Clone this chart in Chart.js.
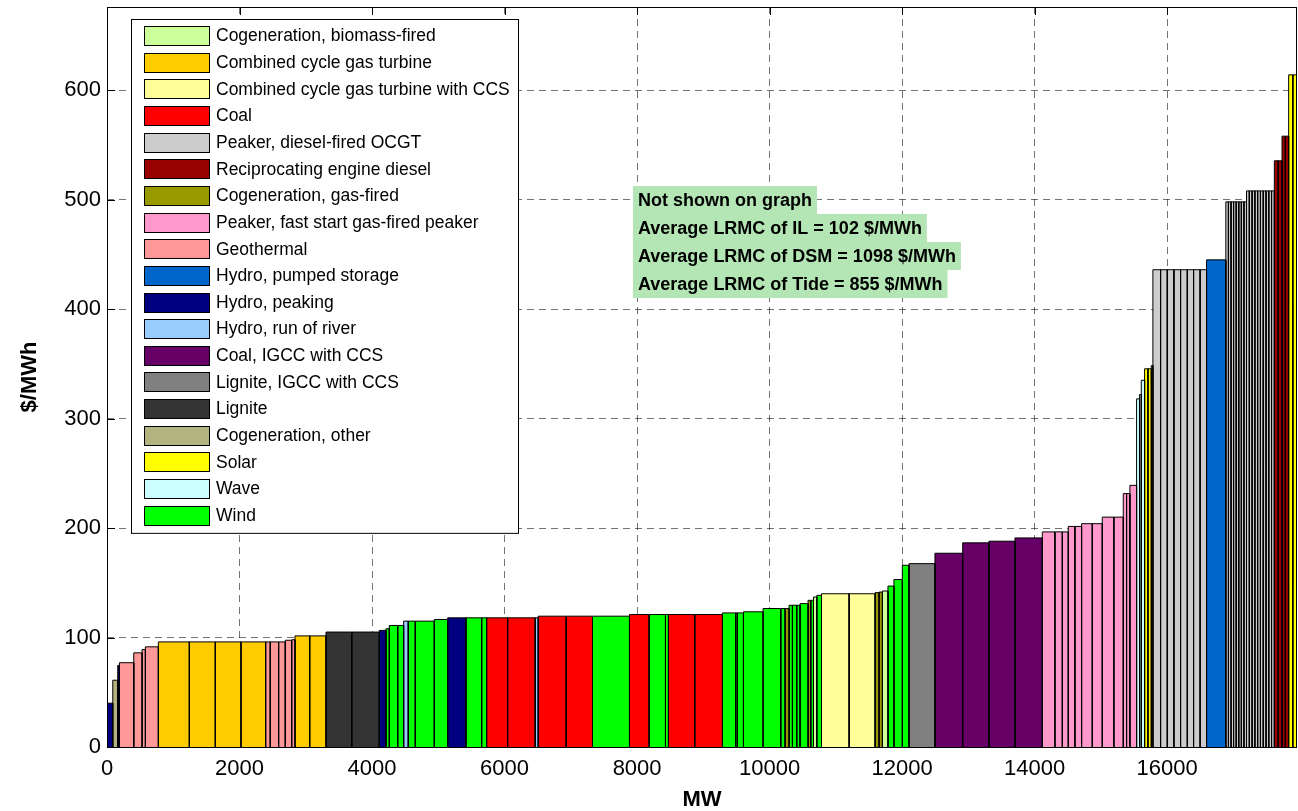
<!DOCTYPE html>
<html>
<head>
<meta charset="utf-8">
<title>LRMC supply curve</title>
<script src="https://cdn.jsdelivr.net/npm/chart.js@4.4.1/dist/chart.umd.min.js"></script>
<style>
  html, body { margin: 0; padding: 0; background: #fff; }
  #wrap { width: 1298px; height: 811px; }
</style>
</head>
<body>
<div id="wrap"><canvas id="supply-chart"></canvas></div>
<script>
// Technologies, in legend order
const techKeys = ['bio', 'ccgt', 'ccgtccs', 'coal', 'ocgt', 'recip', 'cogas', 'peaker', 'geo',
  'pumped', 'hpeak', 'ror', 'igcc', 'ligccs', 'lignite', 'coother', 'solar', 'wave', 'wind'];
const techNames = [
  'Cogeneration, biomass-fired',
  'Combined cycle gas turbine',
  'Combined cycle gas turbine with CCS',
  'Coal',
  'Peaker, diesel-fired OCGT',
  'Reciprocating engine diesel',
  'Cogeneration, gas-fired',
  'Peaker, fast start gas-fired peaker',
  'Geothermal',
  'Hydro, pumped storage',
  'Hydro, peaking',
  'Hydro, run of river',
  'Coal, IGCC with CCS',
  'Lignite, IGCC with CCS',
  'Lignite',
  'Cogeneration, other',
  'Solar',
  'Wave',
  'Wind'
];
const techColors = ['#ccff99', '#ffcc00', '#ffff99', '#ff0000', '#cccccc', '#990000', '#999900',
  '#ff99cc', '#ff9999', '#0066cc', '#000080', '#99ccff', '#660066', '#808080', '#333333',
  '#b3b380', '#ffff00', '#ccffff', '#00ff00'];

// Plant blocks in merit order: technology, capacity (MW), LRMC ($/MWh)
const blockTech = [
  'hpeak', 'coother', 'hpeak', 'geo', 'geo', 'geo', 'geo',
  'ccgt', 'ccgt', 'ccgt', 'ccgt',
  'geo', 'geo', 'geo', 'geo', 'geo',
  'ccgt', 'ccgt', 'lignite', 'lignite',
  'hpeak', 'wind', 'wind', 'wind', 'ror', 'wind', 'wind', 'wind',
  'hpeak', 'wind', 'wind', 'coal', 'coal', 'ror', 'coal', 'coal', 'wind',
  'coal', 'wind', 'wind', 'coal', 'coal',
  'wind', 'wind', 'wind', 'wind', 'wind', 'wind', 'cogas',
  'wind', 'wind', 'wind', 'wind', 'cogas', 'wind', 'bio', 'wind',
  'ccgtccs', 'ccgtccs', 'cogas', 'cogas', 'bio', 'wind', 'wind', 'wind',
  'ligccs', 'igcc', 'igcc', 'igcc', 'igcc',
  'peaker', 'peaker', 'peaker', 'peaker', 'peaker', 'peaker', 'peaker', 'peaker', 'peaker',
  'peaker', 'peaker', 'peaker',
  'wave', 'wave', 'wave', 'solar', 'solar',
  'ocgt', 'ocgt', 'ocgt', 'ocgt', 'ocgt', 'ocgt', 'ocgt', 'ocgt', 'ocgt',
  'pumped',
  'ocgt', 'ocgt', 'ocgt', 'ocgt', 'ocgt', 'ocgt', 'ocgt', 'ocgt',
  'ocgt', 'ocgt', 'ocgt', 'ocgt', 'ocgt', 'ocgt', 'ocgt', 'ocgt', 'ocgt', 'ocgt',
  'recip', 'recip', 'recip', 'recip', 'solar', 'solar'
];
const blockMW = [
  87, 75, 25, 217, 125, 50, 196,
  467, 392, 388, 372,
  69, 127, 100, 97, 50,
  222, 246, 388, 416,
  101, 50, 127, 90, 69, 106, 287, 202,
  276, 237, 75, 317, 416, 45, 422, 398, 558,
  296, 247, 45, 397, 418,
  201, 26, 90, 296, 267, 65, 60,
  51, 65, 50, 121, 41, 41, 50, 71,
  416, 392, 60, 51, 84, 90, 127, 100,
  392, 418, 397, 392, 413,
  190, 112, 90, 100, 101, 161, 151, 175, 142,
  50, 50, 101,
  45, 26, 50, 50, 51,
  24, 116, 101, 100, 101, 101, 95, 98, 98,
  291,
  39, 39, 39, 39, 39, 39, 39, 39,
  42, 42, 42, 42, 42, 42, 42, 42, 42, 42,
  58, 58, 50, 50, 63, 63
];
const blockCost = [
  40, 61, 74.5, 77, 86, 89, 91.5,
  96, 96, 96, 96,
  96, 96, 96, 97.5, 98,
  101.5, 101.5, 105, 105,
  106.5, 108, 111, 111, 115, 115, 115, 116.5,
  118, 118, 118, 118, 118, 118, 119.5, 119.5, 119.5,
  121, 121, 121, 121, 121,
  122.5, 122.5, 122.5, 123.5, 126.5, 126.5, 126.5,
  129.5, 129.5, 129.5, 131, 134, 134, 137, 138.5,
  140, 140, 141, 141.5, 142.5, 147, 153, 166,
  167.5, 177, 186.5, 188, 191,
  196.5, 196.5, 196.5, 201.5, 201.5, 204, 204, 210, 210,
  231.5, 231.5, 239,
  318, 322, 335, 345.5, 345.5,
  348.5, 436, 436, 436, 436, 436, 436, 436, 436,
  445,
  498, 498, 498, 498, 498, 498, 498, 498,
  508, 508, 508, 508, 508, 508, 508, 508, 508, 508,
  535.5, 535.5, 558, 558, 614, 614
];

const xTickValues = [0, 2000, 4000, 6000, 8000, 10000, 12000, 14000, 16000];
const yTickValues = [0, 100, 200, 300, 400, 500, 600];
const yMax = 676;

const noteLines = [
  'Not shown on graph',
  'Average LRMC of IL = 102 $/MWh',
  'Average LRMC of DSM = 1098 $/MWh',
  'Average LRMC of Tide = 855 $/MWh'
];

const FONT = '"Liberation Sans", Arial, Helvetica, sans-serif';

// Each block becomes a filled outline from (start,0) up, across and back down
let runningMW = 0;
const blockDatasets = blockMW.map((mw, i) => {
  const x0 = runningMW;
  const x1 = runningMW + mw;
  runningMW = x1;
  const h = blockCost[i];
  return {
    type: 'line',
    data: [{ x: x0, y: 0 }, { x: x0, y: h }, { x: x1, y: h }, { x: x1, y: 0 }],
    backgroundColor: techColors[techKeys.indexOf(blockTech[i])],
    borderColor: '#000',
    borderWidth: 1,
    fill: 'origin',
    pointRadius: 0,
    tension: 0
  };
});
const totalMW = runningMW;

// Inward tick marks (behind the blocks) and the closed axes box (on top)
const axesFrame = {
  id: 'axesFrame',
  beforeDatasetsDraw(chart) {
    const { ctx, chartArea: a, scales: { x, y } } = chart;
    ctx.save();
    ctx.strokeStyle = '#000';
    ctx.lineWidth = 1;
    ctx.beginPath();
    xTickValues.forEach(v => {
      const px = Math.round(x.getPixelForValue(v)) + 0.5;
      ctx.moveTo(px, a.bottom); ctx.lineTo(px, a.bottom - 8);
      ctx.moveTo(px, a.top); ctx.lineTo(px, a.top + 8);
    });
    yTickValues.forEach(v => {
      const py = Math.round(y.getPixelForValue(v)) + 0.5;
      ctx.moveTo(a.left, py); ctx.lineTo(a.left + 8, py);
      ctx.moveTo(a.right, py); ctx.lineTo(a.right - 8, py);
    });
    ctx.stroke();
    ctx.restore();
  },
  afterDatasetsDraw(chart) {
    const { ctx, chartArea: a } = chart;
    ctx.save();
    ctx.strokeStyle = '#000';
    ctx.lineWidth = 1;
    ctx.strokeRect(Math.round(a.left) + 0.5, Math.round(a.top) + 0.5,
      Math.round(a.right - a.left) - 1, Math.round(a.bottom - a.top));
    ctx.restore();
  }
};

// Legend box in the top-left corner of the plot
const legendBox = {
  id: 'legendBox',
  afterDraw(chart) {
    const ctx = chart.ctx;
    const left = 131.5, top = 19.5, width = 387, rowH = 26.65;
    const height = techNames.length * rowH + 7.5;
    ctx.save();
    ctx.fillStyle = '#fff';
    ctx.fillRect(left, top, width, height);
    ctx.strokeStyle = '#000';
    ctx.lineWidth = 1;
    ctx.strokeRect(left, top, width, height);
    ctx.font = '17.5px ' + FONT;
    ctx.textBaseline = 'middle';
    ctx.textAlign = 'left';
    techNames.forEach((name, i) => {
      const cy = top + 16 + i * rowH;
      const sy = Math.round(cy - 9.5) + 0.5;
      ctx.fillStyle = techColors[i];
      ctx.fillRect(144.5, sy, 65, 19);
      ctx.strokeRect(144.5, sy, 65, 19);
      ctx.fillStyle = '#000';
      ctx.fillText(name, 216, cy + 1);
    });
    ctx.restore();
  }
};

// Green highlighted note about values left off the graph
const noteBox = {
  id: 'noteBox',
  afterDraw(chart) {
    const ctx = chart.ctx;
    const left = 633, top = 186, rowH = 28;
    ctx.save();
    ctx.font = 'bold 18px ' + FONT;
    ctx.textBaseline = 'middle';
    ctx.textAlign = 'left';
    noteLines.forEach((line, i) => {
      const w = ctx.measureText(line).width;
      ctx.fillStyle = '#b3e6b4';
      ctx.fillRect(left, top + i * rowH, w + 10, rowH);
      ctx.fillStyle = '#000';
      ctx.fillText(line, left + 5, top + i * rowH + rowH / 2 + 1);
    });
    ctx.restore();
  }
};

const ctx = document.getElementById('supply-chart');
new Chart(ctx, {
  type: 'line',
  data: { datasets: blockDatasets },
  options: {
    responsive: true,
    maintainAspectRatio: false,
    animation: false,
    events: [],
    layout: { autoPadding: false, padding: { top: 7, right: 1, left: 0, bottom: 0 } },
    plugins: {
      legend: { display: false },
      tooltip: { enabled: false }
    },
    scales: {
      x: {
        type: 'linear',
        min: 0,
        max: totalMW,
        afterBuildTicks: scale => { scale.ticks = xTickValues.map(v => ({ value: v })); },
        afterFit: scale => {
          scale.height = 64;
          scale.paddingLeft = 0;
          scale.paddingRight = 0;
        },
        ticks: {
          autoSkip: false,
          maxRotation: 0,
          padding: 9,
          color: '#000',
          font: { family: FONT, size: 22 },
          callback: v => String(v)
        },
        grid: { color: 'rgba(0,0,0,0.55)', lineWidth: 1, drawTicks: false },
        border: { display: false, dash: [7, 5] },
        title: {
          display: true,
          text: 'MW',
          color: '#000',
          font: { family: FONT, size: 22, weight: 'bold', lineHeight: 1 },
          padding: { top: 0, bottom: 0 }
        }
      },
      y: {
        type: 'linear',
        min: 0,
        max: yMax,
        afterBuildTicks: scale => { scale.ticks = yTickValues.map(v => ({ value: v })); },
        afterFit: scale => {
          scale.width = 107;
          scale.paddingTop = 0;
          scale.paddingBottom = 0;
        },
        ticks: {
          padding: 6,
          color: '#000',
          font: { family: FONT, size: 22 },
          callback: v => String(v)
        },
        grid: { color: 'rgba(0,0,0,0.55)', lineWidth: 1, drawTicks: false },
        border: { display: false, dash: [7, 5] },
        title: {
          display: true,
          text: '$/MWh',
          color: '#000',
          font: { family: FONT, size: 22, weight: 'bold', lineHeight: 1 },
          padding: { top: 19, bottom: 0 }
        }
      }
    }
  },
  plugins: [axesFrame, legendBox, noteBox]
});
</script>
</body>
</html>
